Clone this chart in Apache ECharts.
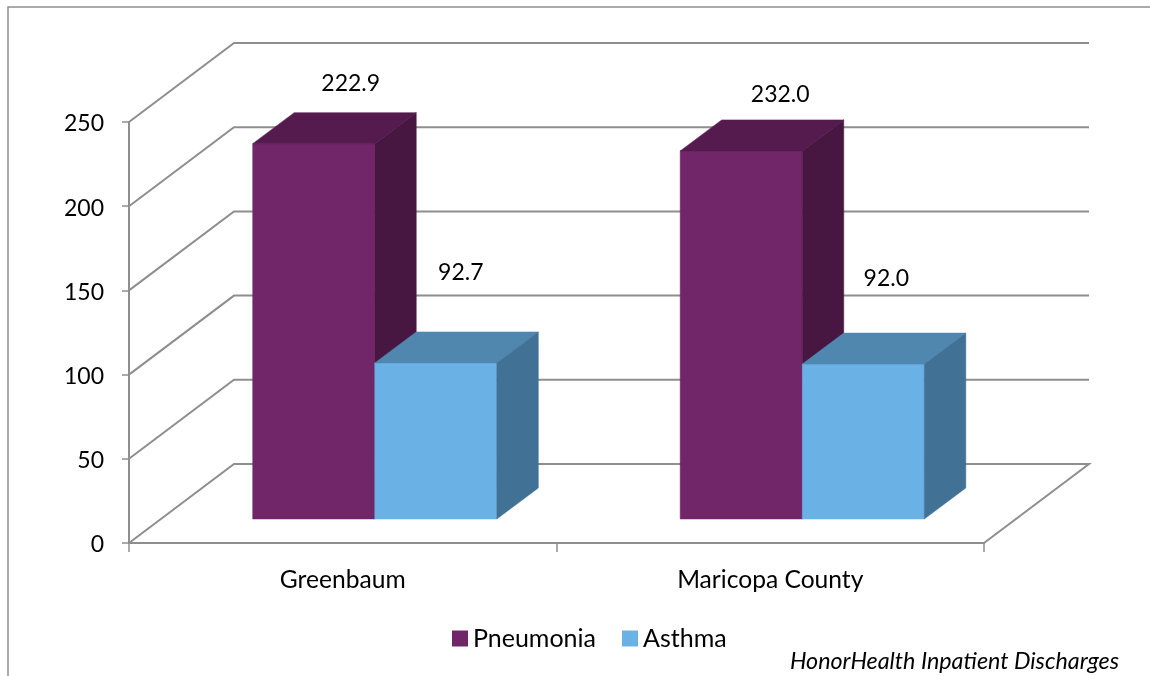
<!DOCTYPE html>
<html>
<head>
<meta charset="utf-8">
<title>HonorHealth Inpatient Discharges</title>
<style>
  html, body { margin: 0; padding: 0; background: #fff; }
  #chart { width: 1150px; height: 676px; }
</style>
<script src="https://cdn.jsdelivr.net/npm/echarts@6/dist/echarts.min.js"></script>
</head>
<body>
<div id="chart"></div>
<script>
const categories = ['Greenbaum', 'Maricopa County'];
const yTicks = [0, 50, 100, 150, 200, 250];
// bar heights as drawn in the picture; the Maricopa pneumonia bar is drawn
// shorter than its printed label, so the printed labels are kept apart
const pneumonia = [222.9, 218.6];
const asthma = [92.7, 92.0];
const pneumoniaLabels = ['222.9', '232.0'];
const asthmaLabels = ['92.7', '92.0'];

const FONT = 'Lato, "Open Sans", sans-serif';
const GRID_COLOR = '#8e8e8e';
const WALL_DX = 105;
const WALL_DY = -79;
const BAR_DX = 32;
const BAR_DY = -24;
const DEPTH_DX = 41.5;
const DEPTH_DY = -31;
const BAR_RATIO = 0.2855;

function face(points, fill) {
  return {
    type: 'polygon',
    shape: { points: points },
    style: { fill: fill, stroke: fill, lineWidth: 0.5 }
  };
}

// one box per category, slot -1 is left of the band centre and slot 0 right of it
function boxSeries(name, values, labels, colors, slot, labelShift) {
  return {
    name: name,
    type: 'custom',
    itemStyle: { color: colors.front },
    data: values.map((v, i) => [i, v]),
    encode: { x: 0, y: 1 },
    z: 3,
    renderItem(params, api) {
      const i = api.value(0);
      const top = api.coord([i, api.value(1)]);
      const base = api.coord([i, 0]);
      const w = api.size([1, 0])[0] * BAR_RATIO;
      const x0 = top[0] + slot * w + BAR_DX;
      const x1 = x0 + w;
      const y0 = top[1] + BAR_DY;
      const y1 = base[1] + BAR_DY;
      const shift = labelShift[i];
      return {
        type: 'group',
        children: [
          face([[x0, y0], [x1, y0], [x1, y1], [x0, y1]], colors.front),
          face([[x0, y0], [x1, y0], [x1 + DEPTH_DX, y0 + DEPTH_DY], [x0 + DEPTH_DX, y0 + DEPTH_DY]], colors.top),
          face([[x1, y0], [x1 + DEPTH_DX, y0 + DEPTH_DY], [x1 + DEPTH_DX, y1 + DEPTH_DY], [x1, y1]], colors.side),
          {
            type: 'text',
            style: {
              x: (x0 + x1) / 2 + shift[0],
              y: y0 + shift[1],
              text: labels[i],
              fill: '#000',
              font: '23px ' + FONT,
              align: 'center',
              verticalAlign: 'middle'
            }
          }
        ]
      };
    }
  };
}

const chart = echarts.init(document.getElementById('chart'));
chart.setOption({
  animation: false,
  backgroundColor: '#fff',
  grid: { left: 129, top: 122, width: 855, height: 421 },
  legend: {
    data: ['Pneumonia', 'Asthma'],
    left: 447,
    top: 621,
    icon: 'rect',
    itemWidth: 16,
    itemHeight: 16,
    itemGap: 26,
    textStyle: { fontFamily: FONT, fontSize: 25, color: '#000' }
  },
  xAxis: {
    type: 'category',
    data: categories,
    axisLine: { lineStyle: { color: GRID_COLOR, width: 2 } },
    axisTick: { show: true, alignWithLabel: false, length: 9, lineStyle: { color: GRID_COLOR, width: 1.5 } },
    axisLabel: { color: '#000', fontFamily: FONT, fontSize: 24.6, margin: 25 }
  },
  yAxis: {
    type: 'value',
    min: 0,
    max: 250,
    interval: 50,
    splitLine: { show: false },
    axisLine: { show: true, lineStyle: { color: GRID_COLOR, width: 2 } },
    axisTick: { show: true, length: 7, lineStyle: { color: GRID_COLOR, width: 1.5 } },
    // thin line box hung from the tick drops the digits 2px, as in the picture
    axisLabel: { color: '#000', fontFamily: FONT, fontSize: 23, margin: 25, verticalAlign: 'top', lineHeight: 4 }
  },
  graphic: [
    {
      type: 'polyline',
      silent: true,
      shape: { points: [[8, 676], [8, 7], [1150, 7]] },
      style: { stroke: '#8e8e8e', lineWidth: 1.5, fill: 'none' }
    },
    {
      type: 'text',
      silent: true,
      style: {
        x: 1119,
        y: 661,
        text: 'HonorHealth Inpatient Discharges',
        fill: '#000',
        font: 'italic 23.3px ' + FONT,
        align: 'right',
        verticalAlign: 'middle'
      }
    }
  ],
  series: [
    {
      type: 'custom',
      silent: true,
      z: 1,
      data: yTicks.map(v => [0, v]),
      encode: { x: 0, y: 1 },
      renderItem(params, api) {
        const v = api.value(1);
        const y = api.coord([0, v])[1];
        const x0 = params.coordSys.x;
        const x1 = x0 + params.coordSys.width;
        const pts = [[x0, y], [x0 + WALL_DX, y + WALL_DY], [x1 + WALL_DX, y + WALL_DY]];
        if (v === 0) pts.push([x1, y]);
        return {
          type: 'polyline',
          shape: { points: pts },
          style: { stroke: GRID_COLOR, lineWidth: 2, fill: 'none' }
        };
      }
    },
    boxSeries('Pneumonia', pneumonia, pneumoniaLabels,
      { front: '#72266a', top: '#551b4e', side: '#481741' }, -1, [[37, -60], [39, -56]]),
    boxSeries('Asthma', asthma, asthmaLabels,
      { front: '#6ab1e6', top: '#5087af', side: '#417195' }, 0, [[25, -90], [23, -85]])
  ]
});
</script>
</body>
</html>
